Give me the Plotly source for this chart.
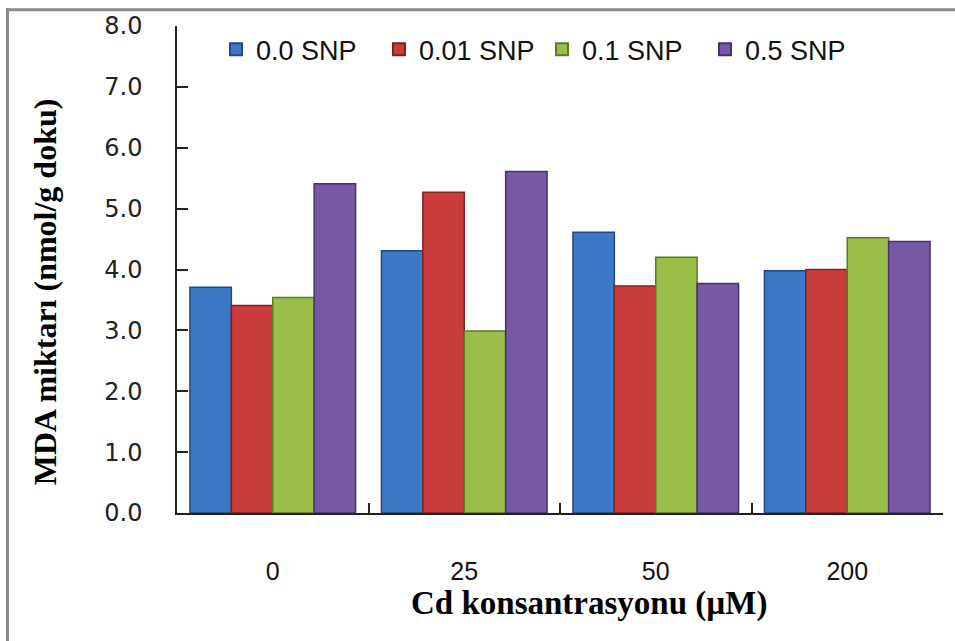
import plotly.graph_objects as go

# Cd concentrations (µM) on the x axis
categories = ["0", "25", "50", "200"]

# MDA content (nmol/g tissue) for each SNP treatment
snp_names = ["0.0 SNP", "0.01 SNP", "0.1 SNP", "0.5 SNP"]
snp_000 = [3.71, 4.31, 4.61, 3.98]
snp_001 = [3.41, 5.27, 3.73, 4.00]
snp_010 = [3.54, 2.99, 4.20, 4.52]
snp_050 = [5.41, 5.61, 3.77, 4.46]

y_ticks = [0, 1, 2, 3, 4, 5, 6, 7, 8]

series = [snp_000, snp_001, snp_010, snp_050]
fills = ["#3b78c6", "#cb3d3c", "#9abf48", "#7758a4"]
edges = ["#24497e", "#7e2222", "#5e7a26", "#47326a"]

fig = go.Figure()
for name, vals, fc, ec in zip(snp_names, series, fills, edges):
    fig.add_trace(go.Bar(
        x=categories, y=vals, name=name,
        marker=dict(color=fc, line=dict(color=ec, width=1.5)),
    ))

W, H = 955, 641
L, R, T, B = 177, 12, 21, 128
pw, ph = W - L - R, H - T - B


def px_x(p):
    return (p - L) / pw


def px_y(p):
    return (H - B - p) / ph


fig.update_layout(
    width=W, height=H,
    margin=dict(l=L, r=R, t=T, b=B, pad=0),
    paper_bgcolor="white", plot_bgcolor="white",
    barmode="group", bargap=0.135, bargroupgap=0,
    showlegend=True,
    legend=dict(
        orientation="h", x=px_x(216), y=px_y(45), xanchor="left", yanchor="middle",
        font=dict(family="Liberation Sans", size=27, color="#111"),
        bgcolor="rgba(0,0,0,0)", itemsizing="constant",
        entrywidth=118, entrywidthmode="pixels",
    ),
    xaxis=dict(
        type="category", tickson="boundaries",
        ticks="inside", ticklen=10, tickwidth=1.5, tickcolor="#222",
        showline=True, linecolor="#222", linewidth=1.5,
        showgrid=False, zeroline=False,
        tickfont=dict(family="Liberation Sans", size=25, color="#111"),
        ticklabelstandoff=35,
    ),
    yaxis=dict(
        range=[0, 8], tickvals=y_ticks, tickformat=".1f",
        ticks="inside", ticklen=11, tickwidth=1.5, tickcolor="#222",
        showline=True, linecolor="#222", linewidth=1.5,
        showgrid=False, zeroline=False,
        tickfont=dict(family="DejaVu Sans", size=24, color="#222"),
        ticklabelstandoff=28,
    ),
    annotations=[
        dict(text="MDA miktarı (nmol/g doku)", xref="paper", yref="paper",
             x=px_x(45), y=px_y(290), textangle=-90, showarrow=False,
             xanchor="center", yanchor="middle",
             font=dict(family="Liberation Serif", size=32, color="#000", weight="bold")),
        dict(text="Cd konsantrasyonu (µM)", xref="paper", yref="paper",
             x=px_x(589), y=px_y(604), showarrow=False,
             xanchor="center", yanchor="middle",
             font=dict(family="Liberation Serif", size=33, color="#000", weight="bold")),
    ],
    shapes=[
        # frame edges of the chart area
        dict(type="line", xref="paper", yref="paper",
             x0=px_x(6), x1=px_x(960), y0=px_y(4.5), y1=px_y(4.5),
             line=dict(color="#888", width=3)),
        dict(type="line", xref="paper", yref="paper",
             x0=px_x(7.5), x1=px_x(7.5), y0=px_y(3), y1=px_y(645),
             line=dict(color="#888", width=3)),
    ],
)

fig.write_html("out.html")
